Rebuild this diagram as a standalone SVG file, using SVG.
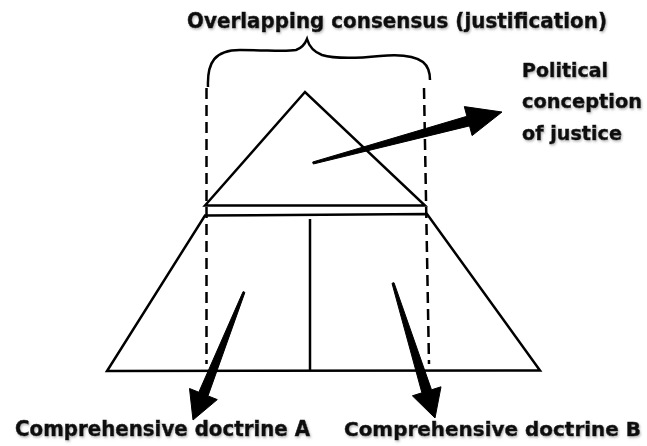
<svg xmlns="http://www.w3.org/2000/svg" width="647" height="446" viewBox="0 0 647 446">
<defs>
<filter id="sh" x="-5%" y="-30%" width="110%" height="160%">
<feDropShadow dx="1" dy="1.5" stdDeviation="1.2" flood-color="#888" flood-opacity="0.6"/>
</filter>
<style>
.ln{fill:none;stroke:#000;stroke-width:2.5;stroke-linejoin:miter}
.ds{fill:none;stroke:#000;stroke-width:2.5;stroke-dasharray:11 6}
.ar{fill:#000;stroke:#000;stroke-width:1;stroke-linejoin:round}
.t{font-family:"DejaVu Sans","Liberation Sans",Arial,sans-serif;font-weight:bold;fill:#111;stroke:#111;stroke-width:0.5;filter:url(#sh)}
</style>
</defs>
<rect width="647" height="446" fill="#fff"/>
<g id="title">
<text class="t" x="187" y="27.5" font-size="20.5" textLength="420" lengthAdjust="spacingAndGlyphs">Overlapping consensus (justification)</text>
</g>
<g id="brace">
<path class="ln" d="M208,87 C207,62 215,50 240,50 C268,50 285,52 296,50 C302,48 305,44 307,39 C309,46 314,52 322,55 C335,59 360,58 380,56 C400,54 415,56 423,62 C429,67 430,74 430,80"/>
</g>
<g id="triangle">
<path class="ln" d="M205,205.5 L305,92 L425,205.5 Z" stroke-width="2.2"/>
</g>
<g id="trapezoid">
<path class="ln" d="M205,215.5 L427,214 L540,370.5 L107,371 Z"/>
<line class="ln" x1="310" y1="219" x2="310" y2="371"/>
</g>
<g id="political">
<text class="t" x="522" y="77" font-size="20" textLength="86" lengthAdjust="spacingAndGlyphs">Political</text>
<text class="t" x="522" y="108" font-size="19.5" textLength="120" lengthAdjust="spacingAndGlyphs">conception</text>
<text class="t" x="522" y="140" font-size="20" textLength="100" lengthAdjust="spacingAndGlyphs">of justice</text>
</g>
<g id="doctrineA">
<text class="t" x="15" y="436" font-size="20.5" textLength="295" lengthAdjust="spacingAndGlyphs">Comprehensive doctrine A</text>
</g>
<g id="doctrineB">
<text class="t" x="344" y="436" font-size="20.2" textLength="297" lengthAdjust="spacingAndGlyphs">Comprehensive doctrine B</text>
</g>
<g id="connectors">
<line class="ds" x1="206.5" y1="88" x2="206.5" y2="364"/>
<line class="ds" x1="424" y1="88" x2="429" y2="364"/>
<polygon class="ar" points="312.7,162 466.9,116.3 464.3,106.6 502,112 472.1,135.6 469.5,125.9 313.3,164"/>
<polygon class="ar" points="243.1,291.6 198.8,392.2 189.5,388.5 193,420 217.3,399.6 208,395.9 244.9,292.4"/>
<polygon class="ar" points="392,283.3 421.9,392.8 412.4,395.8 435,418 441,386.8 431.5,389.8 394,282.7"/>
</g>
</svg>
